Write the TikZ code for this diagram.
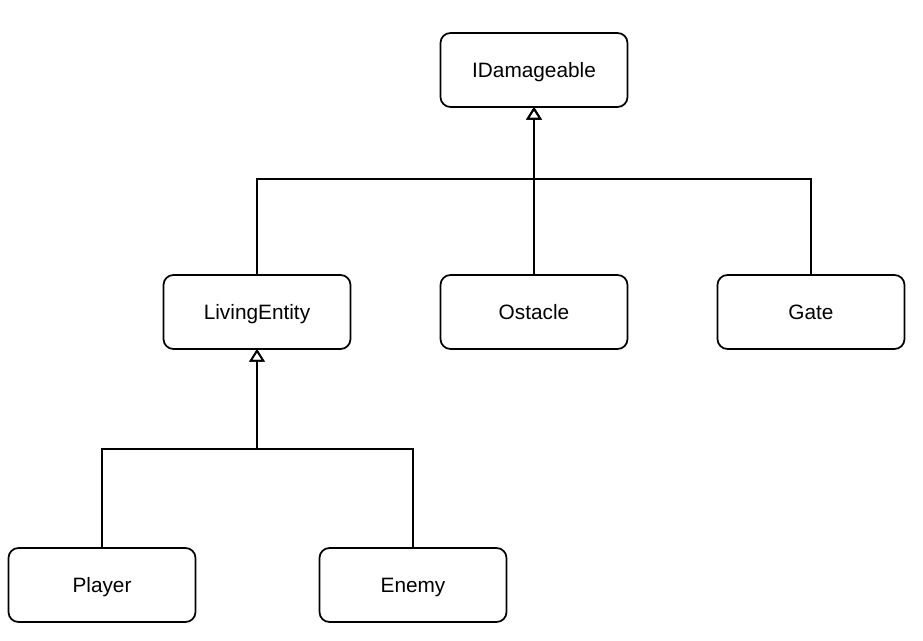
\documentclass[tikz,border=0pt]{standalone}
\usepackage{fontspec}
\setmainfont{Liberation Sans}
\usetikzlibrary{positioning,calc,arrows.meta}

\begin{document}
\begin{tikzpicture}[
	cls/.style={rectangle, draw, rounded corners=7.5pt, line width=1.3pt, outer sep=0pt, minimum width=140.25pt, minimum height=55.5pt, text height=11pt, text depth=0pt, font=\fontsize{15.6pt}{18pt}\selectfont},
	inherit/.style={line width=1.3pt, -{Triangle[open, width=11.5pt, length=9.5pt, line width=1.3pt]}},
	node distance=67.5pt
	]
	\useasboundingbox (-400.5pt,52.5pt) rectangle (291.75pt,-428.25pt);
	\node[cls] (idam) {IDamageable};
	\node[cls, below=126pt of idam] (ostacle) {Ostacle};
	\node[cls, left=of ostacle] (living) {LivingEntity};
	\node[cls, right=of ostacle] (gate) {Gate};
	
	\node[cls, below=149.25pt of living, xshift=-116.25pt] (player) {Player};
	\node[cls, below=149.25pt of living, xshift=117pt] (enemy) {Enemy};
	
	% joins
	\coordinate[below=54pt of idam.south] (topjoin);
	\coordinate[below=75pt of living.south] (lowjoin);
	
	\draw[inherit] (living.north) |- (topjoin) -- (idam.south);
	\draw[inherit] (ostacle.north) -- (idam.south);
	\draw[inherit] (gate.north) |- (topjoin) -- (idam.south);
	
	\draw[inherit] (player.north) |- (lowjoin) -- (living.south);
	\draw[inherit] (enemy.north) |- (lowjoin) -- (living.south);
\end{tikzpicture}
\end{document}
